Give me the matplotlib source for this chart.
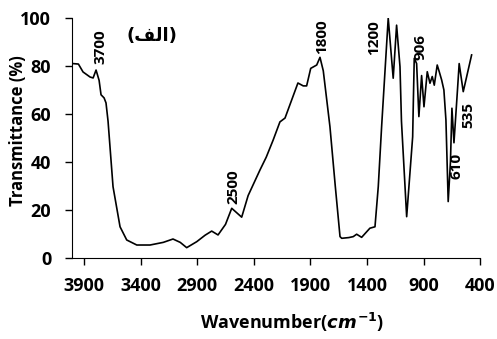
import matplotlib
matplotlib.use("Agg")
import matplotlib.pyplot as plt

# FTIR spectrum (wavenumber cm-1, transmittance %)
wavenumber = [4000, 3950, 3909, 3847, 3820, 3794, 3767, 3750, 3723, 3706,
              3688, 3644, 3582, 3523, 3434, 3317, 3200, 3114, 3050, 2993,
              2904, 2830, 2772, 2716, 2650, 2595, 2507, 2450, 2345, 2290,
              2230, 2169, 2124, 2010, 1963, 1933, 1897, 1844, 1815, 1786,
              1727, 1680, 1638, 1623, 1560, 1521, 1491, 1447, 1374, 1329,
              1300, 1270, 1212, 1168, 1138, 1108, 1095, 1049, 996, 990,
              982, 961, 941, 917, 896, 867, 843, 823, 805, 779,
              761, 740, 720, 702, 682, 662, 649, 631, 600, 585,
              549, 475]
transmittance = [81, 80.8, 77.5, 75.4, 75, 78.3, 74, 68, 66.7, 64.6,
                 57, 29.7, 13, 7.5, 5.4, 5.4, 6.5, 7.9, 6.5, 4.3,
                 6.8, 9.5, 11.2, 9.6, 14, 20.7, 17, 26, 36.7, 42,
                 49, 56.7, 58.3, 72.9, 71.7, 71.7, 79, 80.4, 83.6, 78,
                 54.7, 30, 8.9, 8.2, 8.5, 8.9, 9.9, 8.6, 12.4, 13,
                 29.7, 55, 99.9, 74.9, 97, 79.7, 57, 17.2, 50.5, 65,
                 83.2, 81, 58.9, 76, 63, 77.6, 72.8, 75.6, 72, 80.4,
                 77.6, 74.2, 70, 57.5, 23.5, 40, 62.4, 48, 70, 81,
                 69.3, 84.6]

# peak labels: text, x, y
peak_labels = ["3700", "2500", "1800", "1200", "906", "610", "535"]
peak_x = [3759, 2584, 1797, 1338, 925, 605, 508]
peak_y = [88, 29.6, 92, 92, 88, 38.5, 59.6]

xticks = [3900, 3400, 2900, 2400, 1900, 1400, 900, 400]
yticks = [0, 20, 40, 60, 80, 100]

plt.rcParams['font.family'] = ['Open Sans', 'DejaVu Sans']
plt.rcParams['font.weight'] = 'bold'

fig = plt.figure(figsize=(4.97, 3.39), dpi=100)
ax = fig.add_axes([0.145, 0.239, 0.821, 0.708])

ax.plot(wavenumber, transmittance, color='black', lw=1.2)

ax.set_xlim(4006, 400)
ax.set_ylim(0, 100)
ax.set_xticks(xticks)
ax.set_yticks(yticks)
ax.tick_params(direction='out', length=5, width=1, labelsize=13)
ax.tick_params(axis='x', pad=9)
ax.tick_params(axis='y', pad=10)
for lab in ax.get_xticklabels() + ax.get_yticklabels():
    lab.set_fontweight('bold')
ax.spines['top'].set_visible(False)
ax.spines['right'].set_visible(False)

for t, x, y in zip(peak_labels, peak_x, peak_y):
    ax.text(x, y, t, rotation=90, ha='center', va='center',
            fontsize=11, fontweight='bold')

# Arabic "(alef)" label, shaped with presentation forms for display
ax.text(3299, 92.5, "(\uFED2\uFEDF\uFE8D)", ha='center', va='center',
        fontsize=13, fontweight='bold', family=['DejaVu Sans'])

ax.set_ylabel("Transmittance (%)", fontsize=12, fontweight='bold')
ax.yaxis.set_label_coords(-0.11, 0.53)
ax.set_xlabel(r"Wavenumber($\mathit{cm}^{-1}$)", fontsize=13, fontweight='bold')
ax.xaxis.set_label_coords(0.54, -0.22)

fig.savefig("out.png", dpi=100)
